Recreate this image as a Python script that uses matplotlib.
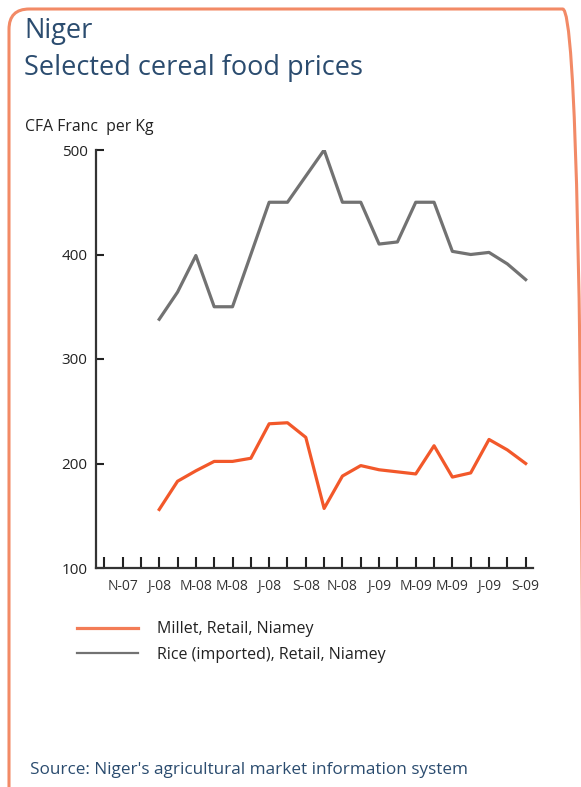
import matplotlib.pyplot as plt
from matplotlib.patches import FancyBboxPatch

plt.rcParams["font.family"] = ["Open Sans", "DejaVu Sans"]

# monthly ticks, Oct 2007 .. Sep 2009
months = ["O-07", "N-07", "D-07", "J-08", "F-08", "M-08", "A-08", "M-08", "J-08", "J-08",
          "A-08", "S-08", "O-08", "N-08", "D-08", "J-09", "F-09", "M-09", "A-09", "M-09",
          "J-09", "J-09", "A-09", "S-09"]
labelled = [1, 3, 5, 7, 9, 11, 13, 15, 17, 19, 21, 23]

# series start in Jan 2008 (index 3)
start = 3
millet = [156, 183, 193, 202, 202, 205, 238, 239, 225, 157, 188, 198, 194, 192, 190,
          217, 187, 191, 223, 213, 200]
rice = [338, 364, 399, 350, 350, 400, 450, 450, 475, 500, 450, 450, 410, 412, 450,
        450, 403, 400, 402, 391, 376]

series_labels = ["Millet, Retail, Niamey", "Rice (imported), Retail, Niamey"]
y_ticks = [100, 200, 300, 400, 500]

ORANGE = "#f2582a"
GREY = "#727272"
NAVY = "#2b4c6f"
BORDER = "#f28a66"

W, H = 581, 787
fig = plt.figure(figsize=(W / 100, H / 100), dpi=100)
fig.patch.set_facecolor("white")

# rounded frame, right and bottom edges run off the picture
frame = FancyBboxPatch(
    (9 / W, -0.2), (583 - 9) / W, 1 - 9 / H + 0.2,
    boxstyle="round,pad=0,rounding_size=0.035",
    transform=fig.transFigure, facecolor="none", edgecolor=BORDER, linewidth=2.2,
    mutation_aspect=W / H, clip_on=False,
)
fig.add_artist(frame)

fig.text(24 / W, 1 - 31 / H, "Niger", fontsize=19.5, color=NAVY, va="center", ha="left")
fig.text(24 / W, 1 - 68 / H, "Selected cereal food prices", fontsize=19.5, color=NAVY,
         va="center", ha="left")
fig.text(25 / W, 1 - 127 / H, "CFA Franc  per Kg", fontsize=11.3, color="#222222",
         va="center", ha="left")

ax = fig.add_axes((96 / W, 1 - 568 / H, (533 - 96) / W, (568 - 150) / H))
x = list(range(start, start + len(millet)))
ax.plot(x, millet, color=ORANGE, linewidth=2.3, label=series_labels[0])
ax.plot(x, rice, color=GREY, linewidth=2.3, label=series_labels[1])

ax.set_xlim(-0.45, 23.4)
ax.set_ylim(100, 500)
ax.set_yticks(y_ticks)
ax.set_yticklabels([str(v) for v in y_ticks], fontsize=11, color="#222222")
ax.set_xticks(range(len(months)))
ax.set_xticklabels([m if i in labelled else "" for i, m in enumerate(months)],
                   fontsize=10, color="#333333")
ax.tick_params(axis="x", direction="in", length=8, width=1.5, color="#222222", pad=8)
ax.tick_params(axis="y", direction="in", length=6, width=1.5, color="#222222", pad=6)
for side in ("top", "right"):
    ax.spines[side].set_visible(False)
for side in ("left", "bottom"):
    ax.spines[side].set_color("#333333")
    ax.spines[side].set_linewidth(1.6)

leg = ax.legend(
    loc="upper left", bbox_to_anchor=(63 / W, 1 - 607 / H),
    bbox_transform=fig.transFigure, frameon=False, fontsize=11.5,
    handlelength=3.8, handletextpad=1.2, labelspacing=0.6,
)
leg.get_lines()[0].set_color("#f37c56")
leg.get_lines()[1].set_linewidth(1.6)
for t in leg.get_texts():
    t.set_color("#222222")

fig.text(30 / W, 1 - 770 / H, "Source: Niger's agricultural market information system",
         fontsize=12.3, color=NAVY, va="center", ha="left")

fig.savefig("out.png", dpi=100)
